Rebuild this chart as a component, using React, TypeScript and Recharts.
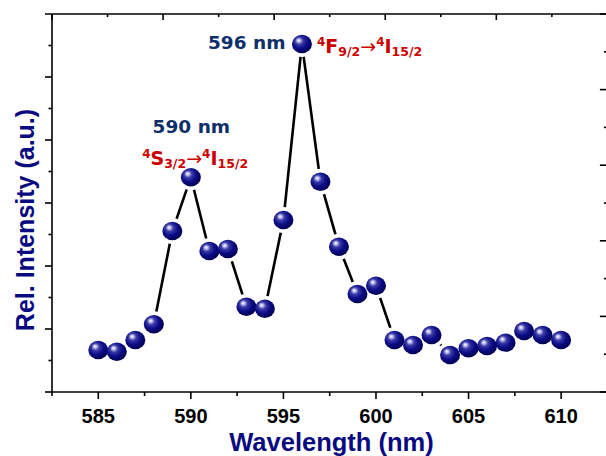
import React from 'react';
import { ComposedChart, Line, XAxis, YAxis, LabelList } from 'recharts';

const wavelengths = [585, 586, 587, 588, 589, 590, 591, 592, 593, 594, 595, 596, 597, 598, 599, 600, 601, 602, 603, 604, 605, 606, 607, 608, 609, 610];
const intensities = [0.667, 0.64, 0.825, 1.075, 2.556, 3.408, 2.238, 2.27, 1.354, 1.322, 2.73, 5.524, 3.338, 2.306, 1.556, 1.687, 0.825, 0.746, 0.905, 0.587, 0.694, 0.73, 0.783, 0.968, 0.905, 0.825];
const xDomain = [582.5, 612.5];
const bottomTicks = [582.5, 585, 587.5, 590, 592.5, 595, 597.5, 600, 602.5, 605, 607.5, 610, 612.5];
const bottomLabels = [585, 590, 595, 600, 605, 610];
const leftTicks = [0, 0.5, 1, 1.5, 2, 2.5, 3, 3.5, 4, 4.5, 5, 5.5, 6];
const rightTicks = [0, 0.5, 1, 1.5, 2, 2.5, 3, 3.5, 4, 4.5, 5];
const topTicks = [582.5, 585.5, 588.5, 591.5, 594.5, 597.5, 600.5, 603.5, 606.5, 609.5, 612.5];
const topMajors = [582.5, 588.5, 594.5, 600.5, 606.5, 612.5];
const peakLabels = [
  { wavelength: 590, nm: '590 nm', lower: 'S', lowerJ: '3/2', upperJ: '15/2' },
  { wavelength: 596, nm: '596 nm', lower: 'F', lowerJ: '9/2', upperJ: '15/2' },
];

const data = wavelengths.map((w, i) => ({ wavelength: w, intensity: intensities[i] }));

const SANS = '"Liberation Sans", Arial, sans-serif';
const WIDE = '"DejaVu Sans", Verdana, sans-serif';
const AX = 1.6;
const CHART_W = 630;
const MARGIN_R = 21.6;
const LEFT_W = 52;
const RIGHT_W = 1;
const PLOT_W = CHART_W - MARGIN_R - LEFT_W - RIGHT_W;

const BottomTick = (p: any) => {
  const v = p.payload.value;
  const major = bottomLabels.includes(v);
  return (
    <g>
      <line x1={p.x} x2={p.x} y1={p.y} y2={p.y + (major ? 7 : 4)} stroke="#000" strokeWidth={AX} />
      {major && (
        <text x={p.x} y={p.y + 30.5} textAnchor="middle" fontFamily={SANS} fontWeight="bold" fontSize={20} fill="#000">
          {v}
        </text>
      )}
    </g>
  );
};

// left ticks; the topmost one also carries the top frame edge with its inward ticks
const LeftTick = (p: any) => {
  const v = p.payload.value;
  const major = Number.isInteger(v);
  const isTop = v === leftTicks[leftTicks.length - 1];
  const toX = (t: number) => p.x + (PLOT_W * (t - xDomain[0])) / (xDomain[1] - xDomain[0]);
  return (
    <g>
      <line x1={p.x - (major ? 7 : 3.5)} x2={isTop ? p.x + PLOT_W : p.x} y1={p.y} y2={p.y} stroke="#000" strokeWidth={AX} />
      {isTop &&
        topTicks.map((t) => (
          <line
            key={`t-${t}`}
            x1={toX(t)}
            x2={toX(t)}
            y1={p.y}
            y2={p.y + (topMajors.includes(t) ? 6 : 3)}
            stroke="#000"
            strokeWidth={AX}
          />
        ))}
    </g>
  );
};

const RightTick = (p: any) => {
  const v = p.payload.value;
  const major = Number.isInteger(v);
  return <line x1={p.x - (major ? 7.5 : 3.5)} x2={p.x} y1={p.y} y2={p.y} stroke="#000" strokeWidth={AX} />;
};

const Halo = (p: any) => <circle key={`h-${p.index}`} cx={p.cx} cy={p.cy} r={13} fill="#fff" stroke="none" />;
const Ball = (p: any) => <ellipse key={`b-${p.index}`} cx={p.cx} cy={p.cy} rx={10} ry={9.2} fill="url(#ballGrad)" stroke="none" />;

const Transition = ({ x, y, anchor, lower, lowerJ, upperJ }: any) => (
  <text x={x} y={y} textAnchor={anchor} fontFamily={WIDE} fontWeight="bold" fontSize={19} fill="#cc0000">
    <tspan fontSize={12} dy={-7}>4</tspan>
    <tspan dy={7}>{lower}</tspan>
    <tspan fontSize={12.5} dy={3}>{lowerJ}</tspan>
    <tspan dy={-3} fontWeight="normal">→</tspan>
    <tspan fontSize={12} dy={-7}>4</tspan>
    <tspan dy={7}>I</tspan>
    <tspan fontSize={12.5} dy={3}>{upperJ}</tspan>
  </text>
);

const PeakLabel = (p: any) => {
  const w = wavelengths[p.index];
  const info = peakLabels.find((d) => d.wavelength === w);
  if (!info) return null;
  const x = p.x;
  const y = p.y;
  if (w === 596) {
    return (
      <g>
        <text x={x - 16.5} y={y + 4.7} textAnchor="end" fontFamily={WIDE} fontWeight="bold" fontSize={18.5} fill="#102f6a">
          {info.nm}
        </text>
        <Transition x={x + 15} y={y + 9} anchor="start" lower={info.lower} lowerJ={info.lowerJ} upperJ={info.upperJ} />
      </g>
    );
  }
  return (
    <g>
      <text x={x + 0.5} y={y - 44.6} textAnchor="middle" fontFamily={WIDE} fontWeight="bold" fontSize={18.5} fill="#102f6a">
        {info.nm}
      </text>
      <Transition x={x + 4.3} y={y - 12.3} anchor="middle" lower={info.lower} lowerJ={info.lowerJ} upperJ={info.upperJ} />
    </g>
  );
};

const YTitle = () => (
  <text x={34} y={220} transform="rotate(-90, 34, 220)" textAnchor="middle" fontFamily={SANS} fontWeight="bold" fontSize={25} fill="#0a0a80">
    Rel. Intensity (a.u.)
  </text>
);

const XTitle = () => (
  <text x={331.5} y={450.5} textAnchor="middle" fontFamily={SANS} fontWeight="bold" fontSize={25.5} fill="#0a0a80">
    Wavelength (nm)
  </text>
);

export default function App() {
  return (
    <div style={{ position: 'fixed', left: 0, top: 0, width: 606, height: 456, overflow: 'hidden', background: '#fff' }}>
      <svg width={0} height={0} style={{ position: 'absolute' }}>
        <defs>
          <radialGradient id="ballGrad" cx="0.42" cy="0.4" r="0.62" fx="0.33" fy="0.3">
            <stop offset="0" stopColor="#ffffff" />
            <stop offset="0.12" stopColor="#c4c4ee" />
            <stop offset="0.32" stopColor="#3a3aa6" />
            <stop offset="0.62" stopColor="#0c0c88" />
            <stop offset="1" stopColor="#00004e" />
          </radialGradient>
        </defs>
      </svg>
      <ComposedChart width={CHART_W} height={456} data={data} margin={{ top: 14, right: MARGIN_R, bottom: 0, left: 0 }}>
        <XAxis
          dataKey="wavelength"
          type="number"
          domain={xDomain}
          ticks={bottomTicks}
          interval={0}
          tickSize={0}
          tickMargin={0}
          tickLine={false}
          tick={BottomTick}
          height={64}
          axisLine={{ stroke: '#000', strokeWidth: AX }}
          label={XTitle}
        />
        <YAxis
          type="number"
          domain={[0, 6]}
          ticks={leftTicks}
          interval={0}
          tickSize={0}
          tickMargin={0}
          tickLine={false}
          tick={LeftTick}
          width={LEFT_W}
          axisLine={{ stroke: '#000', strokeWidth: AX }}
          label={YTitle}
        />
        <YAxis
          yAxisId="right"
          orientation="right"
          type="number"
          domain={[0, 5]}
          allowDataOverflow
          ticks={rightTicks}
          interval={0}
          tickSize={0}
          tickMargin={0}
          tickLine={false}
          tick={RightTick}
          width={RIGHT_W}
          axisLine={{ stroke: '#000', strokeWidth: AX }}
        />
        <Line
          dataKey="intensity"
          type="linear"
          stroke="#000"
          strokeWidth={2.6}
          dot={Halo}
          activeDot={false}
          isAnimationActive={false}
        />
        <Line
          dataKey="intensity"
          type="linear"
          stroke="none"
          dot={Ball}
          activeDot={false}
          isAnimationActive={false}
        >
          <LabelList dataKey="intensity" content={PeakLabel} />
        </Line>
      </ComposedChart>
    </div>
  );
}
